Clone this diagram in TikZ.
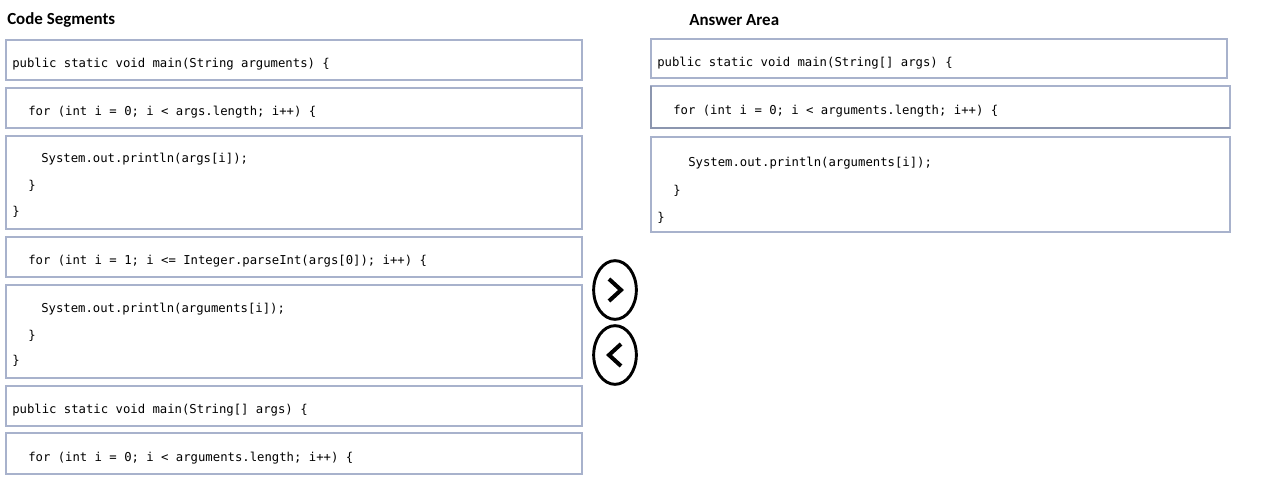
\documentclass[tikz,border=0pt]{standalone}
\usepackage{fontspec}
\usepackage{tikz}
\usetikzlibrary{shapes.geometric}
\newfontfamily\codefont{DejaVu Sans Mono}
\newfontfamily\headfont{Carlito}
\definecolor{boxline}{RGB}{168,178,204}
\definecolor{boxdark}{RGB}{140,150,175}

\begin{document}
\begin{tikzpicture}[x=0.75pt,y=-0.75pt]
\tikzstyle{segbox}=[draw=boxline,line width=1.1pt]
\tikzstyle{code}=[anchor=west,inner sep=0pt,text height=8.2pt,text depth=1pt,font=\codefont\fontsize{9.2}{11}\selectfont]
\tikzstyle{head}=[anchor=west,inner sep=0pt,font=\headfont\bfseries\fontsize{12.7}{15}\selectfont]
\tikzstyle{button}=[draw,ellipse,line width=2.2pt,minimum width=32pt,minimum height=44pt,inner sep=0pt]
\tikzstyle{chevron}=[line width=3pt,line join=miter]
\useasboundingbox[fill=white] (0,0) rectangle (1275,492);

\node[head] (seghead) at (7,20) {Code Segments};
\node[head] (anshead) at (689,20) {Answer Area};

% code segments
\draw[segbox] (6,40) rectangle (582,80);
\node[code] (seg1) at (12,63) {public static void main(String arguments) \{};
\draw[segbox] (6,88) rectangle (582,128);
\node[code] (seg2) at (28,111) {for (int i = 0; i < args.length; i++) \{};
\draw[segbox] (6,136) rectangle (582,229);
\node[code] (seg3a) at (41,158) {System.out.println(args[i]);};
\node[code] (seg3b) at (28,185) {\}};
\node[code] (seg3c) at (12,211) {\}};
\draw[segbox] (6,237) rectangle (582,277);
\node[code] (seg4) at (28,260) {for (int i = 1; i <= Integer.parseInt(args[0]); i++) \{};
\draw[segbox] (6,285) rectangle (582,378);
\node[code] (seg5a) at (41,308) {System.out.println(arguments[i]);};
\node[code] (seg5b) at (28,335) {\}};
\node[code] (seg5c) at (12,360) {\}};
\draw[segbox] (6,386) rectangle (582,426);
\node[code] (seg6) at (12,409) {public static void main(String[] args) \{};
\draw[segbox] (6,433) rectangle (582,474);
\node[code] (seg7) at (28,457) {for (int i = 0; i < arguments.length; i++) \{};

% answer area
\draw[segbox] (651,39) rectangle (1227,78);
\node[code] (ans1) at (657,62) {public static void main(String[] args) \{};
\draw[segbox] (651,86) rectangle (1230,128);
\draw[segbox,draw=boxdark] (651,86) -- (651,128) -- (1230,128);
\node[code] (ans2) at (673,110) {for (int i = 0; i < arguments.length; i++) \{};
\draw[segbox] (651,137) rectangle (1230,232);
\node[code] (ans3a) at (688,162) {System.out.println(arguments[i]);};
\node[code] (ans3b) at (673,190) {\}};
\node[code] (ans3c) at (657,217) {\}};

% move buttons
\node[button] (next) at (615,290) {};
\node[button] (prev) at (615,355) {};
\draw[chevron] ([shift={(-6,-11)}]next.center) -- ([shift={(6,0)}]next.center) -- ([shift={(-6,11)}]next.center);
\draw[chevron] ([shift={(6,-11)}]prev.center) -- ([shift={(-6,0)}]prev.center) -- ([shift={(6,11)}]prev.center);
\end{tikzpicture}
\end{document}
